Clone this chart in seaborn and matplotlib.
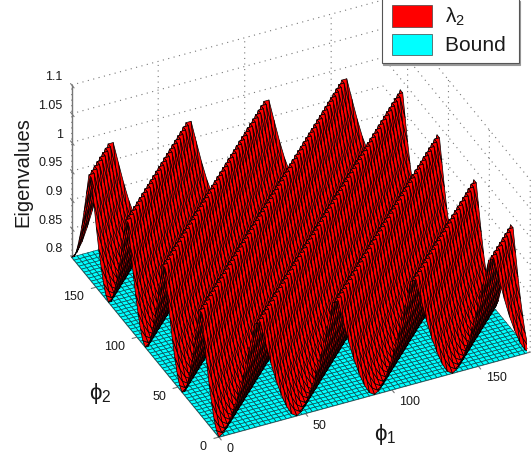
import numpy as np
import matplotlib
matplotlib.use("Agg")
import matplotlib.pyplot as plt
from matplotlib.patches import Patch
from matplotlib.legend_handler import HandlerPatch
import seaborn as sns

# values
phi_step = 3
phi_max = 180
bound_level = 0.8
# height of lambda_2 across one 45 degree period of (phi1 - phi2), one value per mesh step
ridge_profile = [0.800, 0.806, 0.822, 0.845, 0.872, 0.905, 0.942, 0.980,
                 0.980, 0.942, 0.905, 0.872, 0.845, 0.822, 0.806]
phi_ticks = [0, 50, 100, 150]
z_ticks = [0.8, 0.85, 0.9, 0.95, 1, 1.05, 1.1]
z_tick_labels = ["0.8", "0.85", "0.9", "0.95", "1", "1.05", "1.1"]
legend_labels = [r"$\mathrm{\lambda_2}$", "Bound "]

W, H = 531, 465
TXT = "#1a1a1a"
AXC = "#777777"

sns.set_theme(style="white", rc={
    "grid.color": "#777777", "grid.linestyle": (0, (1, 4)), "grid.linewidth": 0.8,
    "mathtext.fontset": "custom", "mathtext.rm": "Liberation Sans",
    "mathtext.it": "Liberation Sans:italic",
})
plt.rcParams["font.family"] = ["Liberation Sans", "DejaVu Sans"]

phi = np.arange(0, phi_max + phi_step, phi_step)
P1, P2 = np.meshgrid(phi, phi)
idx = np.abs(np.subtract.outer(np.arange(len(phi)), np.arange(len(phi)))) % len(ridge_profile)
Z = np.array(ridge_profile)[idx]
B = np.full_like(Z, bound_level)

fig = plt.figure(figsize=(W / 100, H / 100), dpi=100)
ax = fig.add_axes([62.2 / W, 7.7 / H, 465 / W, 1], projection="3d",
                  proj_type="ortho", computed_zorder=False)
ax.set_box_aspect((1, 1, 0.6125), zoom=1.108)
ax.view_init(elev=35.3, azim=-115.3)
ax.patch.set_alpha(0)

ax.plot_surface(P1, P2, B, rstride=1, cstride=1, color="#00ffff", edgecolor="#0b4f55",
                linewidth=0.5, shade=False, zorder=1)
ax.plot_surface(P1, P2, Z, rstride=1, cstride=1, color="#ff0000", edgecolor="#000000",
                linewidth=0.5, shade=False, zorder=2)

ax.set_xlim(0, phi_max, view_margin=0)
ax.set_ylim(0, phi_max, view_margin=0)
ax.set_zlim(0.8, 1.1, view_margin=0)
ax.set_xticks(phi_ticks)
ax.set_yticks(phi_ticks)
ax.set_zticks(z_ticks)
ax.set_zticklabels(z_tick_labels)

for axis in (ax.xaxis, ax.yaxis, ax.zaxis):
    axis.set_pane_color((1, 1, 1, 0))
    axis.pane.set_edgecolor("none")
    axis.line.set_color(AXC)
    axis.line.set_linewidth(1.0)
    axis._axinfo["tick"]["color"] = AXC
    axis._axinfo["tick"]["linewidth"] = {True: 0.8, False: 0.5}
# z ticks point along phi2 in the reference, not along phi1
ax.zaxis._get_tickdir = lambda position: 1

ax.tick_params(axis="both", labelsize=9, labelcolor=TXT, color=AXC)
ax.xaxis.set_tick_params(pad=1)
ax.yaxis.set_tick_params(pad=-1.25)
ax.zaxis.set_tick_params(pad=-4.6)
for t in ax.get_xticklabels():
    t.set_ha("left")
    t.set_va("bottom")
for t in ax.get_yticklabels():
    t.set_ha("right")
    t.set_va("center")
for t in ax.get_zticklabels():
    t.set_ha("right")
    t.set_va("bottom")

fig.text(23 / W, 1 - 172 / H, "Eigenvalues", rotation=90, ha="center", va="center",
         fontsize=14.5, color=TXT)
fig.text(385 / W, 1 - 434 / H, r"$\mathrm{\phi_1}$", ha="center", va="center", fontsize=16, color=TXT)
fig.text(100 / W, 1 - 393 / H, r"$\mathrm{\phi_2}$", ha="center", va="center", fontsize=16, color=TXT)

handles = [Patch(facecolor="#ff0000", edgecolor="#444444", linewidth=0.5),
           Patch(facecolor="#00ffff", edgecolor="#444444", linewidth=0.5)]
leg = fig.legend(handles, legend_labels, loc="upper left",
                 bbox_to_anchor=(381.5 / W, 1 + 2 / H), borderaxespad=0, fontsize=15,
                 handlelength=2.07, handleheight=1.2, handletextpad=0.62,
                 labelspacing=0.25, borderpad=0.35, fancybox=False, framealpha=1,
                 edgecolor="#555555", labelcolor=TXT,
                 handler_map={Patch: HandlerPatch(xpad=0.15)},
                 shadow={"color": "#999999", "alpha": 1, "ox": 1, "oy": -2})
leg.get_frame().set_linewidth(0.8)

fig.savefig("out.png", dpi=100)
